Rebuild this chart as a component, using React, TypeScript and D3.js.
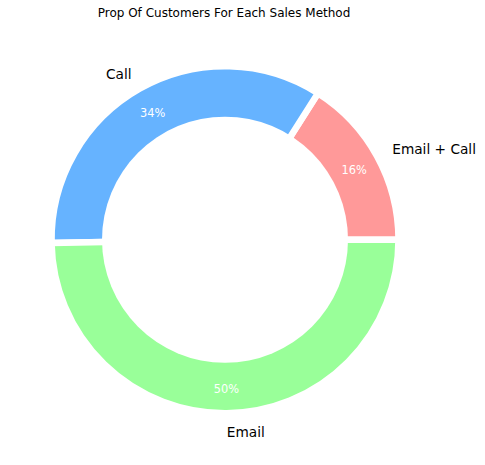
import React from "react";
import * as d3 from "d3";

const categories = ["Email + Call", "Call", "Email"];
const shares = [16.0, 34.3, 49.7];
const pctLabels = ["16%", "34%", "50%"];
const colors = ["#ff9999", "#66b3ff", "#99ff99"];
const title = "Prop Of Customers For Each Sales Method";

export default function App() {
  const W = 485, H = 465;
  const cx = 225, cy = 239.75;
  const R = 173.5;
  const hole = 123;
  const pie = d3
    .pie<number>()
    .sort(null)
    .value((d) => d)
    .startAngle(Math.PI / 2)
    .endAngle(Math.PI / 2 - 2 * Math.PI);
  const arcs = pie(shares);
  const arc = d3.arc<d3.PieArcDatum<number>>().innerRadius(0).outerRadius(R);
  const font = "DejaVu Sans, sans-serif";

  return (
    <svg width={W} height={H} style={{ position: "absolute", left: 0, top: 0 }} fontFamily={font}>
      <rect width={W} height={H} fill="#fff" />
      <text x={224} y={17} textAnchor="middle" fontSize={12} fill="#000">
        {title}
      </text>
      <g transform={`translate(${cx},${cy})`}>
        {arcs.map((a, i) => (
          <path key={i} d={arc(a) || ""} fill={colors[i]} stroke="#fff" strokeWidth={6.5} />
        ))}
        <circle r={hole} fill="#fff" />
        {arcs.map((a, i) => {
          const mid = (a.startAngle + a.endAngle) / 2;
          const lx = Math.sin(mid) * R * 1.1;
          const ly = -Math.cos(mid) * R * 1.1;
          const px = Math.sin(mid) * R * 0.85;
          const py = -Math.cos(mid) * R * 0.85;
          return (
            <g key={"l" + i}>
              <text
                x={lx}
                y={ly + 1}
                textAnchor={lx > 0 ? "start" : "end"}
                dominantBaseline="central"
                fontSize={13.7}
                fill="#000"
              >
                {categories[i]}
              </text>
              <text
                x={px}
                y={py + 1.5}
                textAnchor="middle"
                dominantBaseline="central"
                fontSize={11.4}
                fill="#fff"
              >
                {pctLabels[i]}
              </text>
            </g>
          );
        })}
      </g>
    </svg>
  );
}
